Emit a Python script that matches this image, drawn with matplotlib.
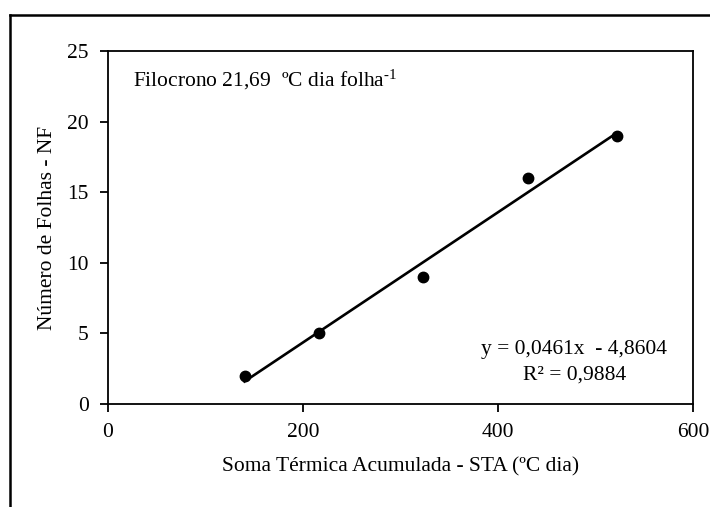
import numpy as np
import matplotlib.pyplot as plt
from matplotlib.lines import Line2D

# dados
sta = [140, 216, 323, 431, 522]
nf = [2, 5, 9, 16, 19]
slope = 0.0461
intercept = -4.8604
r2 = 0.9884

plt.rcParams['font.family'] = ['Liberation Serif', 'DejaVu Serif']
plt.rcParams['mathtext.fontset'] = 'custom'
plt.rcParams['mathtext.rm'] = 'Liberation Serif'
plt.rcParams['mathtext.it'] = 'Liberation Serif:italic'

fs = 15.5

fig = plt.figure(figsize=(7.1, 5.07), dpi=100)
ax = fig.add_axes([108 / 710, 103 / 507, 585 / 710, 353 / 507])

# moldura externa (só topo e esquerda visíveis)
fig.add_artist(Line2D([10 / 710, 1.0], [1 - 15 / 507, 1 - 15 / 507],
                      transform=fig.transFigure, color='black', lw=1.8))
fig.add_artist(Line2D([10 / 710, 10 / 710], [1 - 15 / 507, 0.0],
                      transform=fig.transFigure, color='black', lw=1.8))

ax.plot(sta, nf, 'o', color='black', markersize=7.5, zorder=3)
xl = np.array([min(sta), max(sta)])
ax.plot(xl, slope * xl + intercept, color='black', lw=1.9)

ax.set_xlim(0, 600)
ax.set_ylim(0, 25)
ax.set_xticks([0, 200, 400, 600])
ax.set_yticks([0, 5, 10, 15, 20, 25])
ax.tick_params(direction='out', length=6, width=1.3, labelsize=fs, pad=8)
for s in ax.spines.values():
    s.set_linewidth(1.3)

ax.set_xlabel('Soma Térmica Acumulada - STA (ºC dia)', fontsize=fs, labelpad=11)
ax.set_ylabel('Número de Folhas - NF', fontsize=fs, labelpad=7)

ax.text(0.043, 0.918, r'Filocrono 21,69  ºC dia folha$^{\text{-1}}$',
        transform=ax.transAxes, fontsize=fs, ha='left', va='center')
eq = f'y = {slope:.4f}x  - {abs(intercept):.4f}'.replace('.', ',')
rr = f'R² = {r2:.4f}'.replace('.', ',')
ax.text(0.797, 0.118, eq + '\n' + rr,
        transform=ax.transAxes, fontsize=fs, ha='center', va='center',
        multialignment='center', linespacing=1.45)

fig.savefig('out.png', dpi=100)
